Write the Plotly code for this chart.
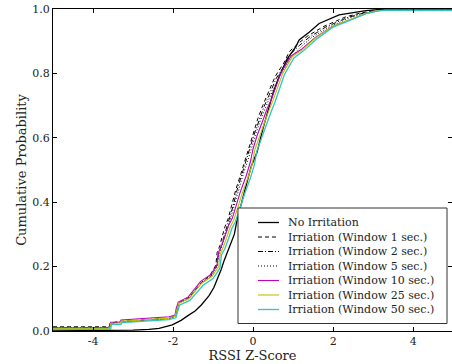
import plotly.graph_objects as go

# ---- data (x = RSSI z-score, y = cumulative probability) ----
NO_IRR = [(-5.0, 0.0), (-3.5, 0.001), (-3.0, 0.003), (-2.6, 0.005), (-2.35, 0.008),
          (-2.02, 0.019), (-1.8, 0.033), (-1.6, 0.05), (-1.45, 0.062), (-1.3, 0.08),
          (-1.1, 0.11), (-0.98, 0.135), (-0.93, 0.15), (-0.8, 0.19), (-0.72, 0.22),
          (-0.6, 0.26), (-0.47, 0.30), (-0.4, 0.345), (-0.33, 0.38), (-0.2, 0.44),
          (-0.05, 0.51), (0.1, 0.556), (0.25, 0.63), (0.4, 0.70), (0.5, 0.74),
          (0.65, 0.79), (0.85, 0.845), (1.07, 0.883), (1.15, 0.904), (1.4, 0.928),
          (1.65, 0.955), (2.15, 0.982), (2.6, 0.992), (2.82, 0.995), (3.3, 1.0), (4.97, 1.0)]

WIN_1 = [(-5.0, 0.013), (-3.6, 0.013), (-3.57, 0.025), (-3.3, 0.030), (-2.1, 0.040),
         (-1.95, 0.047), (-1.9, 0.068), (-1.85, 0.088), (-1.6, 0.104), (-1.3, 0.150),
         (-1.08, 0.172), (-0.93, 0.205), (-0.9, 0.243), (-0.83, 0.265), (-0.78, 0.290),
         (-0.7, 0.325), (-0.62, 0.350), (-0.54, 0.39), (-0.43, 0.44), (-0.3, 0.49),
         (-0.2, 0.53), (-0.1, 0.575), (0.0, 0.615), (0.12, 0.66), (0.24, 0.70),
         (0.35, 0.73), (0.55, 0.79), (0.78, 0.835), (0.9, 0.867), (1.1, 0.89),
         (1.35, 0.915), (1.75, 0.945), (2.3, 0.975), (2.7, 0.988), (3.1, 0.996), (4.97, 0.997)]

WIN_2 = [(-5.0, 0.011), (-3.6, 0.011), (-3.57, 0.024), (-3.3, 0.029), (-2.1, 0.039),
         (-1.95, 0.046), (-1.9, 0.066), (-1.85, 0.087), (-1.6, 0.102), (-1.3, 0.148),
         (-1.06, 0.170), (-0.91, 0.203), (-0.87, 0.240), (-0.8, 0.262), (-0.74, 0.288),
         (-0.66, 0.322), (-0.59, 0.348), (-0.5, 0.388), (-0.4, 0.438), (-0.27, 0.488),
         (-0.17, 0.528), (-0.07, 0.572), (0.03, 0.612), (0.15, 0.656), (0.27, 0.696),
         (0.38, 0.727), (0.58, 0.785), (0.82, 0.832), (0.95, 0.862), (1.15, 0.886),
         (1.4, 0.912), (1.8, 0.943), (2.35, 0.973), (2.75, 0.987), (3.15, 0.996), (4.97, 0.997)]

WIN_5 = [(-5.0, 0.010), (-3.6, 0.010), (-3.57, 0.023), (-3.3, 0.028), (-2.1, 0.038),
         (-1.95, 0.045), (-1.9, 0.065), (-1.85, 0.086), (-1.6, 0.101), (-1.3, 0.147),
         (-1.05, 0.168), (-0.9, 0.201), (-0.85, 0.238), (-0.79, 0.260), (-0.73, 0.286),
         (-0.64, 0.320), (-0.57, 0.346), (-0.48, 0.386), (-0.37, 0.436), (-0.25, 0.486),
         (-0.14, 0.526), (-0.04, 0.570), (0.06, 0.610), (0.18, 0.653), (0.3, 0.693),
         (0.41, 0.724), (0.62, 0.782), (0.86, 0.83), (1.0, 0.858), (1.2, 0.883),
         (1.45, 0.91), (1.85, 0.941), (2.4, 0.972), (2.8, 0.986), (3.2, 0.996), (4.97, 0.997)]

WIN_10 = [(-5.0, 0.010), (-3.58, 0.010), (-3.56, 0.027), (-3.32, 0.028), (-3.30, 0.034),
          (-2.1, 0.044), (-1.95, 0.050), (-1.92, 0.071), (-1.87, 0.090), (-1.62, 0.106),
          (-1.31, 0.154), (-1.07, 0.174), (-0.9, 0.205), (-0.86, 0.246), (-0.78, 0.267),
          (-0.69, 0.298), (-0.61, 0.329), (-0.52, 0.35), (-0.43, 0.39), (-0.32, 0.432),
          (-0.17, 0.483), (-0.07, 0.524), (0.0, 0.566), (0.1, 0.607), (0.23, 0.649),
          (0.35, 0.69), (0.46, 0.72), (0.7, 0.803), (0.95, 0.854), (1.2, 0.874),
          (1.55, 0.911), (1.97, 0.945), (2.48, 0.969), (2.82, 0.986), (3.1, 0.995),
          (3.3, 0.996), (4.97, 0.996)]

WIN_25 = [(-5.0, 0.008), (-3.58, 0.008), (-3.56, 0.024), (-3.32, 0.025), (-3.30, 0.030),
          (-2.1, 0.040), (-1.95, 0.046), (-1.91, 0.066), (-1.86, 0.086), (-1.6, 0.101),
          (-1.28, 0.149), (-1.03, 0.169), (-0.86, 0.200), (-0.82, 0.241), (-0.74, 0.262),
          (-0.65, 0.293), (-0.57, 0.324), (-0.48, 0.345), (-0.38, 0.386), (-0.27, 0.428),
          (-0.12, 0.479), (-0.02, 0.52), (0.04, 0.562), (0.15, 0.603), (0.28, 0.645),
          (0.40, 0.686), (0.50, 0.717), (0.74, 0.800), (0.98, 0.852), (1.23, 0.873),
          (1.57, 0.911), (1.98, 0.946), (2.48, 0.970), (2.82, 0.987), (3.1, 0.995),
          (3.3, 0.996), (4.97, 0.996)]

WIN_50 = [(-5.0, 0.005), (-3.56, 0.005), (-3.54, 0.020), (-3.30, 0.021), (-3.28, 0.026),
          (-2.1, 0.035), (-1.93, 0.041), (-1.89, 0.060), (-1.84, 0.080), (-1.58, 0.095),
          (-1.25, 0.142), (-1.0, 0.163), (-0.83, 0.195), (-0.79, 0.236), (-0.7, 0.257),
          (-0.61, 0.288), (-0.53, 0.319), (-0.44, 0.34), (-0.34, 0.381), (-0.22, 0.423),
          (-0.07, 0.474), (0.03, 0.515), (0.09, 0.557), (0.2, 0.598), (0.33, 0.64),
          (0.45, 0.681), (0.55, 0.712), (0.78, 0.796), (1.02, 0.848), (1.26, 0.87),
          (1.6, 0.908), (2.0, 0.944), (2.5, 0.969), (2.84, 0.986), (3.12, 0.994),
          (3.3, 0.996), (4.97, 0.996)]

SERIES_NAMES = ["No Irritation", "Irriation (Window 1 sec.)", "Irriation (Window 2 sec.)",
                "Irriation (Window 5 sec.)", "Irriation (Window 10 sec.)",
                "Irriation (Window 25 sec.)", "Irriation (Window 50 sec.)"]
SERIES_DATA = [NO_IRR, WIN_1, WIN_2, WIN_5, WIN_10, WIN_25, WIN_50]

X_TICK_VALS = [-4, -2, 0, 2, 4]
X_TICK_TEXT = ["-4", "-2", "0", "2", "4"]
Y_TICK_VALS = [0.0, 0.2, 0.4, 0.6, 0.8, 1.0]
Y_TICK_TEXT = ["0.0", "0.2", "0.4", "0.6", "0.8", "1.0"]

# ---- styles ----
STYLES = [
    dict(color="black", dash="solid", width=1.3),
    dict(color="black", dash="4px,3px", width=1.0),
    dict(color="black", dash="5px,2px,1px,2px", width=1.0),
    dict(color="black", dash="1px,2px", width=1.0),
    dict(color="#bf00bf", dash="solid", width=1.1),
    dict(color="#bfbf00", dash="solid", width=1.1),
    dict(color="#30c4c4", dash="solid", width=1.3),
]

FONT = "DejaVu Serif"

# plot-area geometry (pixels) used to place the hand-drawn legend
W, H = 452, 364
ML, MR, MT, MB = 53, 0, 9, 33
PW, PH = W - ML - MR, H - MT - MB


def px_x(px):
    return (px - ML) / PW


def px_y(py):
    return (H - MB - py) / PH


fig = go.Figure()
for name, pts, st in zip(SERIES_NAMES, SERIES_DATA, STYLES):
    fig.add_trace(go.Scatter(
        x=[p[0] for p in pts], y=[p[1] for p in pts], mode="lines", name=name,
        line=dict(color=st["color"], dash=st["dash"], width=st["width"]),
        showlegend=False,
    ))

# ---- legend box drawn with shapes/annotations (compact rows like the reference) ----
shapes = [dict(type="rect", xref="paper", yref="paper",
               x0=px_x(238), x1=px_x(447), y0=px_y(323.5), y1=px_y(208),
               line=dict(color="#333", width=1), fillcolor="white", layer="above")]
annotations = []
ROW0, ROWSTEP = 222.5, 14.5
for i, (name, st) in enumerate(zip(SERIES_NAMES, STYLES)):
    yy = px_y(ROW0 + i * ROWSTEP)
    shapes.append(dict(type="line", xref="paper", yref="paper",
                       x0=px_x(258), x1=px_x(279), y0=yy, y1=yy, layer="above",
                       line=dict(color=st["color"], dash=st["dash"], width=st["width"])))
    annotations.append(dict(xref="paper", yref="paper", x=px_x(286), y=yy,
                            xanchor="left", yanchor="middle", showarrow=False,
                            text=name, font=dict(family=FONT, size=11, color="#222")))

axis_common = dict(
    showline=True, linecolor="black", linewidth=1, mirror="ticks",
    ticks="inside", ticklen=4, tickcolor="black", showgrid=False, zeroline=False,
    tickfont=dict(family=FONT, size=11, color="#222"),
)

fig.update_layout(
    width=W, height=H,
    margin=dict(l=ML, r=MR, t=MT, b=MB),
    paper_bgcolor="white", plot_bgcolor="white",
    font=dict(family=FONT, color="#222"),
    xaxis=dict(range=[-5, 4.97], tickvals=X_TICK_VALS, ticktext=X_TICK_TEXT,
               title=dict(text="RSSI Z-Score", font=dict(family=FONT, size=13), standoff=2),
               **axis_common),
    yaxis=dict(range=[0, 1], tickvals=Y_TICK_VALS, ticktext=Y_TICK_TEXT,
               title=dict(text="Cumulative Probability", font=dict(family=FONT, size=13), standoff=2),
               **axis_common),
    shapes=shapes,
    annotations=annotations,
    showlegend=False,
)

fig.write_html("out.html")
